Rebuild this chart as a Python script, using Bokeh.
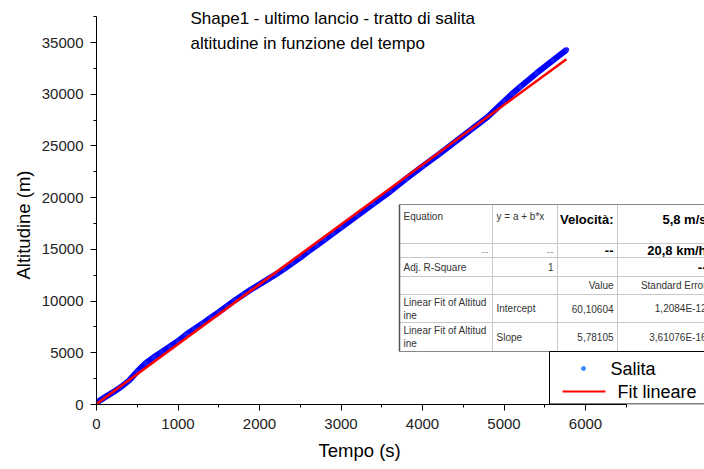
from bokeh.plotting import figure
from bokeh.models import Range1d, SingleIntervalTicker, BasicTickFormatter, Title
from bokeh.core.properties import value
from bokeh.embed import file_html
from bokeh.resources import INLINE

# ---------------- data ----------------
t_salita = [0, 100, 200, 300, 400, 500, 600, 700, 800, 900, 1000, 1100, 1200, 1300,
            1400, 1500, 1600, 1700, 1800, 1900, 2000, 2100, 2200, 2300, 2400, 2500,
            2600, 2700, 2800, 2900, 3000, 3200, 3400, 3600, 3800, 4000, 4200, 4400,
            4600, 4800, 5000, 5100, 5200, 5400, 5600, 5770]
alt_salita = [180, 690, 1170, 1690, 2320, 3200, 3980, 4560, 5085, 5610, 6140, 6770,
              7300, 7825, 8400, 8930, 9510, 10090, 10615, 11145, 11620, 12100, 12580,
              13105, 13655, 14210, 14810, 15370, 15945, 16525, 17100, 18260, 19420,
              20570, 21830, 23030, 24190, 25400, 26600, 27810, 29300, 30040, 30720,
              32030, 33280, 34310]
fit_t = [0, 5765]
fit_alt = [60.1, 33388]

title_lines = ["Shape1 - ultimo lancio - tratto di salita",
               "altitudine in funzione del tempo"]
x_title = "Tempo (s)"
y_title = "Altitudine (m)"
legend_labels = ["Salita", "Fit lineare"]

# table cells: (row, col, text, bold)
table_cells = [
    (0, 0, "Equation", False), (0, 1, "y = a + b*x", False),
    (0, 2, "Velocità:", True), (0, 3, "5,8 m/s", True),
    (1, 0, "--", False), (1, 1, "--", False), (1, 2, "--", True), (1, 3, "20,8 km/h", True),
    (2, 0, "Adj. R-Square", False), (2, 1, "1", False), (2, 3, "--", True),
    (3, 2, "Value", False), (3, 3, "Standard Error", False),
    (4, 0, "Linear Fit of Altitud\nine", False), (4, 1, "Intercept", False),
    (4, 2, "60,10604", False), (4, 3, "1,2084E-12", False),
    (5, 0, "Linear Fit of Altitud\nine", False), (5, 1, "Slope", False),
    (5, 2, "5,78105", False), (5, 3, "3,61076E-16", False),
]

# ---------------- layout ----------------
W, H = 704, 469
FL, FB = 96, 404
PX_X = 0.0815
PX_Y = 362 / 35000
FONT = value("Liberation Sans")


def dx(px):
    return (px - FL) / PX_X


def dy(py):
    return (FB - py) / PX_Y


p = figure(width=W, height=H, output_backend="svg", toolbar_location=None,
           x_range=Range1d(0, (W - FL) / PX_X), y_range=Range1d(0, FB / PX_Y),
           min_border_left=FL, min_border_right=0, min_border_top=0,
           min_border_bottom=H - FB)
p.outline_line_color = None
p.grid.visible = False
p.background_fill_color = "white"
p.border_fill_color = "white"

for ax, b, iv in ((p.xaxis, (0, 6500), 1000), (p.yaxis, (0, 37500), 5000)):
    ax.bounds = b
    ax.ticker = SingleIntervalTicker(interval=iv, num_minor_ticks=2)
    ax.formatter = BasicTickFormatter(use_scientific=False)
    ax.axis_line_color = "black"
    ax.axis_line_width = 1
    ax.major_tick_line_color = "black"
    ax.minor_tick_line_color = "black"
    ax.major_tick_in = 0
    ax.major_tick_out = 6
    ax.minor_tick_in = 0
    ax.minor_tick_out = 3
    ax.major_label_text_font = "Liberation Sans"
    ax.major_label_text_font_size = "15px"
    ax.major_label_text_color = "#222222"

p.xaxis.major_label_standoff = 8
p.yaxis.major_label_standoff = 7

# axis titles placed as side-panel titles, offset so they centre on the drawn axes
p.add_layout(Title(text=x_title, align="left", offset=318 - FL, standoff=12,
                   text_font="Liberation Sans", text_font_size="18.5px",
                   text_font_style="normal", text_color="black"), "below")
p.add_layout(Title(text=y_title, align="left", offset=FB - 279, standoff=10,
                   text_font="Liberation Sans", text_font_size="18.5px",
                   text_font_style="normal", text_color="black"), "left")

# data
p.line(t_salita, alt_salita, line_color="#0000ff", line_width=6)
p.scatter(t_salita, alt_salita, size=4, color="#1a1aff")
p.line(fit_t, fit_alt, line_color="#ff0000", line_width=2.5)


def txt(px, py, s, size, align="left", bold=False, color="black"):
    p.text(x=[dx(px)], y=[dy(py)], text=[s], text_font=FONT, text_font_size=size,
           text_align=align, text_baseline="middle", text_color=color,
           text_font_style="bold" if bold else "normal")


# title
txt(190, 18, title_lines[0], "17px")
txt(190, 43, title_lines[1], "17px")

# table
TL, TR = 399, 720
TT, TBm = 204, 351
col_x = [399, 492, 557, 617, 720]
row_y = [204, 243, 257, 276, 294, 322, 351]
p.quad(left=[dx(TL)], right=[dx(TR)], top=[dy(TT)], bottom=[dy(TBm)],
       fill_color="white", line_color=None)
for yy in row_y[1:-1]:
    p.segment(x0=[dx(TL)], y0=[dy(yy)], x1=[dx(TR)], y1=[dy(yy)],
              line_color="#c8c8c8", line_width=1)
for xx in col_x[1:-1]:
    p.segment(x0=[dx(xx)], y0=[dy(TT)], x1=[dx(xx)], y1=[dy(TBm)],
              line_color="#c8c8c8", line_width=1)
p.segment(x0=[dx(TL)], y0=[dy(TT)], x1=[dx(TR)], y1=[dy(TT)], line_color="#888888", line_width=1)
p.segment(x0=[dx(TL)], y0=[dy(TBm)], x1=[dx(TR)], y1=[dy(TBm)], line_color="#888888", line_width=1)
p.segment(x0=[dx(TL)], y0=[dy(TT)], x1=[dx(TL)], y1=[dy(TBm)], line_color="#555555", line_width=1.5)

for r, c, s, bold in table_cells:
    size = "13px" if bold else "10px"
    color = "black" if bold else "#333333"
    if s == "--" and not bold:
        color = "#999999"
    lines = s.split("\n")
    if r == 0:
        ys = [216] if not bold else [219]
    elif len(lines) == 2:
        ys = [row_y[r] + 8, row_y[r] + 21]
    else:
        ys = [(row_y[r] + row_y[r + 1]) / 2]
    right = c >= 2 or (c == 1 and s == "1") or (s == "--" and c < 2)
    for line, yy in zip(lines, ys):
        if right:
            xr = col_x[c + 1] - 4 if c < 3 else 706
            txt(xr, yy, line, size, align="right", bold=bold, color=color)
        else:
            txt(col_x[c] + 4, yy, line, size, align="left", bold=bold, color=color)

# legend
p.quad(left=[dx(549)], right=[dx(720)], top=[dy(351)], bottom=[dy(403.5)],
       fill_color="white", line_color="black", line_width=1)
p.scatter([dx(583)], [dy(368)], size=4, color="#3b8cff")
txt(610, 368, legend_labels[0], "18px")
p.segment(x0=[dx(562)], y0=[dy(391)], x1=[dx(605)], y1=[dy(391)],
          line_color="#ff0000", line_width=2)
txt(617, 391, legend_labels[1], "18px")

open("out.html", "w").write(file_html(p, INLINE))
